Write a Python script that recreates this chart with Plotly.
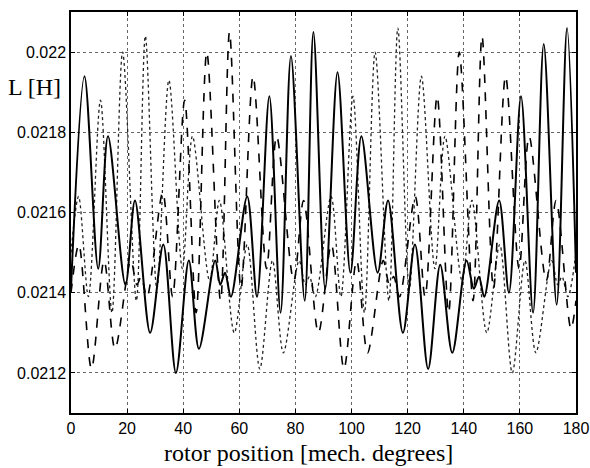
import plotly.graph_objects as go

# Solid curve (extrema)
solid_x = [0, 4.8, 9.7, 13.2, 19.4, 22.8, 28.2, 32.9, 37.4, 42.0, 45.6, 51.4, 53.2, 54.9, 57.0,
           62.8, 66.3, 70.7, 74.7, 78.4, 83.3, 86.4, 90.6, 95.0, 99.6, 103.5, 109.3, 113.0,
           118.3, 122.6, 127.3, 131.6, 135.9, 141.0, 143.6, 145.4, 147.3, 152.6, 156.1,
           160.4, 164.7, 168.5, 173.1, 176.8, 180]
solid_y = [0.02141, 0.02194, 0.02146, 0.02179, 0.02142, 0.02163, 0.02130, 0.02152, 0.02120,
           0.02148, 0.02126, 0.02148, 0.02142, 0.02145, 0.02139, 0.02164, 0.02139, 0.02189,
           0.02135, 0.02199, 0.02138, 0.02205, 0.02141, 0.02195, 0.02145, 0.02179, 0.02145,
           0.02163, 0.02130, 0.02152, 0.02121, 0.02147, 0.02125, 0.02148, 0.02141, 0.02144,
           0.02139, 0.02163, 0.02140, 0.02189, 0.02135, 0.02202, 0.02137, 0.02206, 0.02145]

# Dashed curve
dash_x = [0, 2.8, 7.3, 11.8, 15.7, 21.3, 23.5, 25.0, 27.1, 32.7, 36.2, 40.5, 44.6, 48.4, 53.3,
          56.5, 60.6, 64.9, 69.7, 73.3, 79.4, 82.9, 88.2, 92.8, 97.3, 101.8, 105.7, 111.3,
          113.5, 115.0, 117.1, 122.7, 126.2, 130.5, 134.6, 138.4, 143.3, 146.5, 150.6, 154.9,
          159.7, 163.3, 169.4, 172.9, 178.2, 180]
dash_y = [0.02140, 0.02152, 0.02121, 0.02148, 0.02126, 0.02148, 0.02142, 0.02144, 0.02139,
          0.02165, 0.02139, 0.02188, 0.02135, 0.02200, 0.02138, 0.02205, 0.02141, 0.02194,
          0.02146, 0.02179, 0.02143, 0.02163, 0.02130, 0.02152, 0.02121, 0.02148, 0.02125,
          0.02148, 0.02142, 0.02144, 0.02139, 0.02164, 0.02139, 0.02189, 0.02135, 0.02200,
          0.02138, 0.02204, 0.02141, 0.02194, 0.02146, 0.02179, 0.02143, 0.02163, 0.02131,
          0.02138]

# Dotted curve
dot_x = [0, 2.7, 6.2, 10.5, 14.6, 18.4, 23.3, 26.5, 30.6, 34.9, 39.7, 43.3, 49.4, 52.9, 58.2,
         62.8, 67.3, 71.8, 75.7, 81.3, 83.5, 85.0, 87.1, 92.7, 96.2, 100.5, 104.6, 108.4,
         113.3, 116.5, 120.6, 124.9, 129.7, 133.3, 139.4, 142.9, 148.2, 152.8, 157.3, 161.8,
         165.7, 171.3, 173.5, 175.0, 177.1, 180]
dot_y = [0.02150, 0.02164, 0.02139, 0.02188, 0.02135, 0.02200, 0.02138, 0.02204, 0.02141,
         0.02193, 0.02146, 0.02179, 0.02143, 0.02163, 0.02130, 0.02152, 0.02121, 0.02148,
         0.02125, 0.02148, 0.02142, 0.02144, 0.02139, 0.02164, 0.02139, 0.02189, 0.02135,
         0.02200, 0.02138, 0.02206, 0.02141, 0.02194, 0.02146, 0.02179, 0.02143, 0.02163,
         0.02130, 0.02152, 0.02120, 0.02148, 0.02125, 0.02148, 0.02142, 0.02144, 0.02139,
         0.02150]

x_ticks = [0, 20, 40, 60, 80, 100, 120, 140, 160, 180]
y_ticks = [0.0212, 0.0214, 0.0216, 0.0218, 0.022]
y_ticklabels = ["0.0212", "0.0214", "0.0216", "0.0218", "0.022"]

fig = go.Figure()
fig.add_trace(go.Scatter(x=dot_x, y=dot_y, mode="lines",
                         line=dict(color="#222", width=1.3, dash="dot", shape="spline", smoothing=0.9)))
fig.add_trace(go.Scatter(x=dash_x, y=dash_y, mode="lines",
                         line=dict(color="black", width=1.6, dash="dash", shape="spline", smoothing=0.9)))
fig.add_trace(go.Scatter(x=solid_x, y=solid_y, mode="lines",
                         line=dict(color="black", width=2, shape="spline", smoothing=0.9)))

axis_common = dict(showline=True, linecolor="black", linewidth=1.5, mirror="ticks",
                   ticks="inside", ticklen=4, tickcolor="black",
                   showgrid=True, gridcolor="#666", griddash="dot", gridwidth=1,
                   zeroline=False, automargin=False,
                   tickfont=dict(family="Liberation Sans, Arial, sans-serif", size=16, color="black"))

fig.update_xaxes(range=[0, 180], tickvals=x_ticks, **axis_common)
fig.update_yaxes(range=[0.0211, 0.0221], tickvals=y_ticks, ticktext=y_ticklabels, **axis_common)

fig.update_layout(
    width=590, height=468, autosize=False,
    margin=dict(l=71, r=14, t=12, b=55),
    paper_bgcolor="white", plot_bgcolor="white",
    showlegend=False,
    annotations=[
        dict(text="L [H]", xref="paper", yref="paper", x=-0.072, y=0.813,
             xanchor="center", yanchor="middle", showarrow=False,
             font=dict(family="Liberation Serif, Times New Roman, serif", size=24, color="black")),
        dict(text="rotor position [mech. degrees]", xref="paper", yref="paper", x=0.471, y=-0.10,
             xanchor="center", yanchor="middle", showarrow=False,
             font=dict(family="Liberation Serif, Times New Roman, serif", size=24, color="black")),
    ],
)

fig.write_html("out.html",
               config={"responsive": False, "displayModeBar": False},
               post_script="document.body.style.margin='0';document.body.style.overflow='hidden';")
